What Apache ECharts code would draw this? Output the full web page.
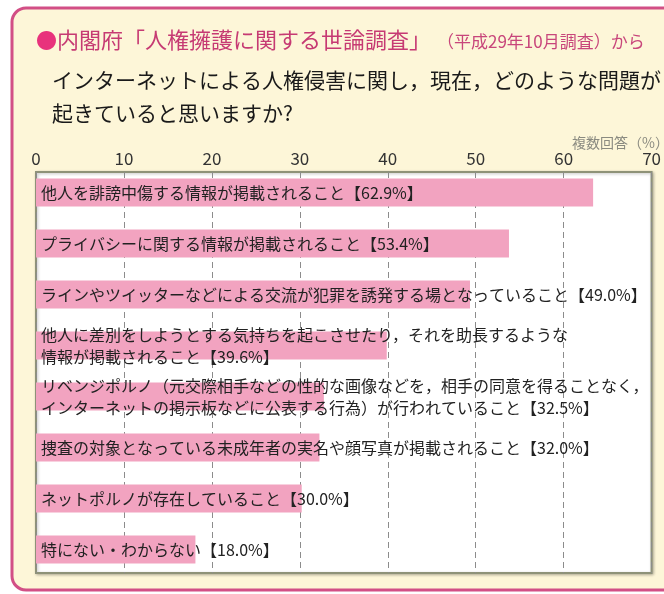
<!DOCTYPE html>
<html>
<head>
<meta charset="utf-8">
<script src="https://cdn.jsdelivr.net/npm/echarts@6/dist/echarts.min.js"></script>
<style>
html,body{margin:0;padding:0;background:#fff;}
#chart{width:664px;height:594px;}
</style>
</head>
<body>
<div id="chart"></div>
<script>
// ---- data ----
const categories = [
  '他人を誹謗中傷する情報が掲載されること',
  'プライバシーに関する情報が掲載されること',
  'ラインやツイッターなどによる交流が犯罪を誘発する場となっていること',
  '他人に差別をしようとする気持ちを起こさせたり，それを助長するような\n情報が掲載されること',
  'リベンジポルノ（元交際相手などの性的な画像などを，相手の同意を得ることなく，\nインターネットの掲示板などに公表する行為）が行われていること',
  '捜査の対象となっている未成年者の実名や顔写真が掲載されること',
  'ネットポルノが存在していること',
  '特にない・わからない'
];
const values = [62.9, 53.4, 49.0, 39.6, 32.5, 32.0, 30.0, 18.0];
const axisMin = 0, axisMax = 70, axisStep = 10;

const titleMain = '内閣府「人権擁護に関する世論調査」';
const titleNote = '（平成29年10月調査）から';
const question = 'インターネットによる人権侵害に関し，現在，どのような問題が\n起きていると思いますか?';
const unitNote = '複数回答（%）';

// ---- chart ----
const FONT = '"Noto Sans CJK JP", "Noto Sans", sans-serif';
const chart = echarts.init(document.getElementById('chart'), null, {renderer: 'canvas'});

const option = {
  backgroundColor: '#ffffff',
  animation: false,
  textStyle: {fontFamily: FONT},
  graphic: [
    {
      type: 'rect', z: -10, silent: true,
      shape: {x: 12, y: 8, width: 720, height: 582, r: 14},
      style: {fill: '#fdf6d8', stroke: '#d24f86', lineWidth: 3}
    }
  ],
  title: [
    {
      left: 36, top: 29, padding: 0,
      text: '{b|●}{t|' + titleMain + '}{s|' + titleNote + '}',
      textStyle: {
        fontWeight: 'normal',
        rich: {
          b: {color: '#e8327c', fontSize: 21, fontWeight: 'normal', fontFamily: FONT},
          t: {color: '#c63a73', fontSize: 22, fontWeight: 'normal', fontFamily: FONT},
          s: {color: '#c8467b', fontSize: 17, fontWeight: 'normal', fontFamily: FONT, padding: [3, 0, 0, 6]}
        }
      }
    },
    {
      left: 52, top: 64, padding: 0,
      text: question,
      textStyle: {color: '#1a1a1a', fontSize: 21, fontWeight: 'normal', lineHeight: 33, fontFamily: FONT}
    },
    {
      left: 572, top: 136, padding: 0,
      text: unitNote,
      textStyle: {color: '#8a8a80', fontSize: 14, fontWeight: 'normal', fontFamily: FONT}
    }
  ],
  grid: [
    {
      left: 36, right: 8, top: 172, bottom: 21,
      show: true, backgroundColor: '#ffffff',
      borderColor: '#8e9278', borderWidth: 2,
      shadowColor: 'rgba(0,0,0,0.25)', shadowBlur: 3, shadowOffsetX: 1, shadowOffsetY: 1
    },
    {left: 36, right: 8, top: 167, bottom: 19}
  ],
  xAxis: [
    {
      gridIndex: 0, type: 'value', position: 'top',
      min: axisMin, max: axisMax, interval: axisStep,
      axisLine: {show: false}, axisTick: {show: false},
      axisLabel: {color: '#333', fontSize: 17, margin: 5, fontFamily: FONT},
      splitLine: {show: true, lineStyle: {color: '#8c8c8c', width: 1, type: [6, 4]}}
    },
    {
      gridIndex: 1, type: 'value',
      min: axisMin, max: axisMax, interval: axisStep,
      show: false, splitLine: {show: false}
    }
  ],
  yAxis: [
    {gridIndex: 0, type: 'value', show: false, splitLine: {show: false}},
    {
      gridIndex: 1, type: 'category', inverse: true,
      data: categories, show: false
    }
  ],
  series: [
    {
      type: 'bar', xAxisIndex: 1, yAxisIndex: 1,
      data: values, barWidth: 28,
      itemStyle: {color: '#f2a3c0'},
      label: {
        show: true, position: 'insideLeft', distance: 5,
        color: '#222', fontSize: 16, lineHeight: 22, fontFamily: FONT,
        formatter: p => p.name + '【' + p.value.toFixed(1) + '%】'
      }
    }
  ]
};
chart.setOption(option);
</script>
</body>
</html>
